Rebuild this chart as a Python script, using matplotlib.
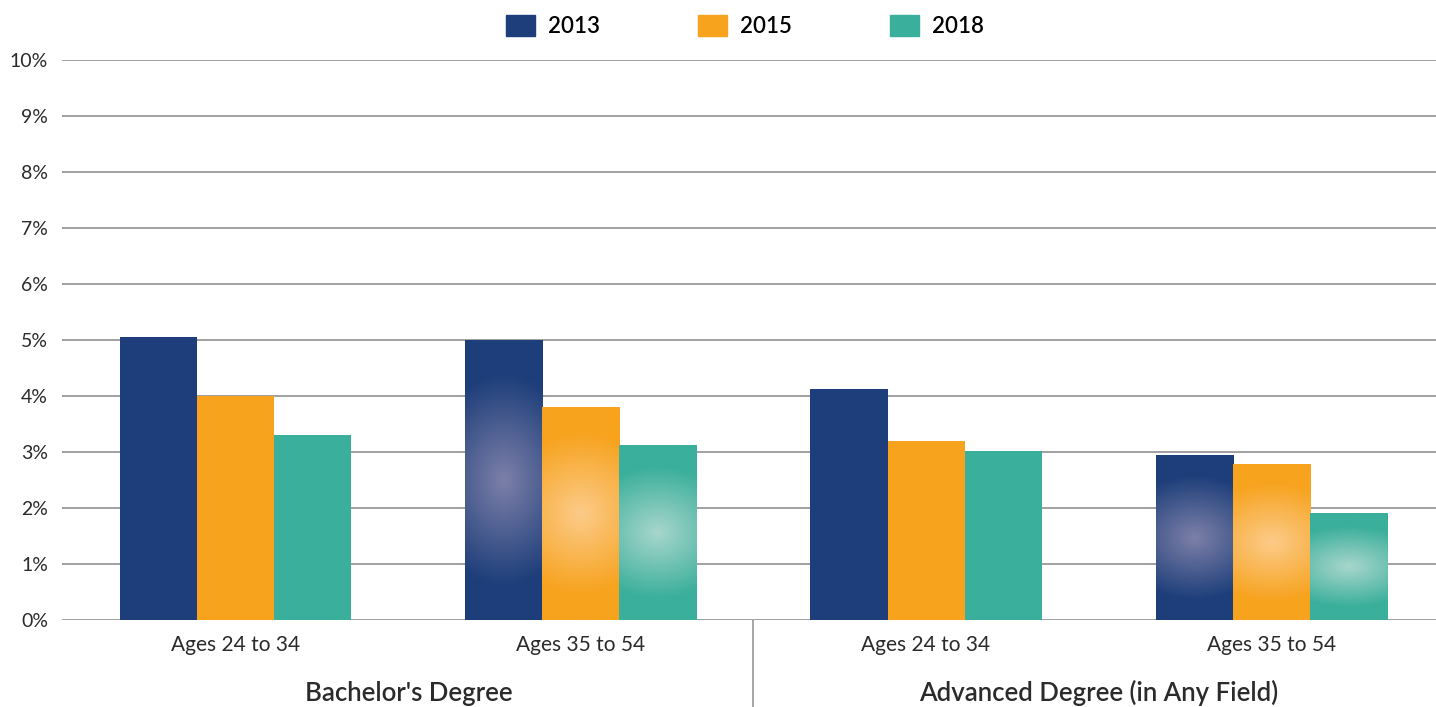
"""
Grouped bar chart: share by degree type and age band, 2013 / 2015 / 2018.
"""
import numpy as np
import matplotlib
matplotlib.use("Agg")
import matplotlib.pyplot as plt
from matplotlib.patches import Patch
from matplotlib.transforms import blended_transform_factory

# ---- data ----
years = ["2013", "2015", "2018"]
age_labels = ["Ages 24 to 34", "Ages 35 to 54", "Ages 24 to 34", "Ages 35 to 54"]
degree_labels = ["Bachelor's Degree", "Advanced Degree (in Any Field)"]
vals_2013 = [5.05, 5.00, 4.13, 2.93]
vals_2015 = [4.00, 3.80, 3.20, 2.77]
vals_2018 = [3.30, 3.11, 3.02, 1.90]
glow_groups = [False, True, False, True]   # groups drawn with the radial highlight

COLORS = ["#1d3e7a", "#f7a31e", "#3aaf9b"]
GLOW = ["#7d80a8", "#fccb8a", "#a8d6cc"]
TXT = "#2b2b2b"

plt.rcParams.update({"font.family": ["Lato", "DejaVu Sans"], "font.size": 14})


def to_rgb(c):
    return np.array(matplotlib.colors.to_rgb(c))


def glow_bar(ax, x0, w, h, base, center):
    """Fill a bar rectangle with a radial gradient toward a lighter centre."""
    n = 200
    xs = np.linspace(-1, 1, n)
    ys = np.linspace(-1, 1, n)
    X, Y = np.meshgrid(xs, ys)
    # ellipse wider than the bar, about a third of its height tall
    r = np.sqrt((X / 2.0) ** 2 + (Y / 0.76) ** 2)
    t = np.clip(1 - r, 0, 1) ** 1.0
    img = to_rgb(base)[None, None, :] * (1 - t[..., None]) + to_rgb(center)[None, None, :] * t[..., None]
    ax.imshow(img, extent=(x0, x0 + w, 0, h), aspect="auto", zorder=3,
              interpolation="bilinear")


def main():
    fig = plt.figure(figsize=(14.36, 7.07), dpi=100)
    ax = fig.add_axes([62 / 1436, 87 / 707, 1 - 62 / 1436, 560 / 707])

    series = [vals_2013, vals_2015, vals_2018]
    x = np.arange(len(age_labels))
    w = 0.2232
    for i, vals in enumerate(series):
        pos = x + (i - 1) * w
        ax.bar(pos, vals, width=w, color=COLORS[i], zorder=2, linewidth=0)
        for j, v in enumerate(vals):
            if glow_groups[j]:
                glow_bar(ax, pos[j] - w / 2, w, v, COLORS[i], GLOW[i])

    ax.set_xlim(-0.504, 3.478)
    ax.set_ylim(0, 10)
    ax.set_yticks(range(0, 11))
    ax.set_yticklabels([f"{k}%" for k in range(0, 11)], color=TXT, fontsize=14)
    ax.tick_params(axis="y", length=0, pad=10)
    ax.set_xticks([])
    ax.grid(axis="y", color="#a0a0a0", lw=1.4, zorder=1)
    for s in ax.spines.values():
        s.set_visible(False)

    # category and group labels below the axis
    tr = blended_transform_factory(ax.transData, fig.transFigure)
    for j, lab in enumerate(age_labels):
        ax.text(x[j], 1 - 645 / 707, lab, transform=tr, ha="center", va="center",
                fontsize=15, color=TXT)
    for k, lab in enumerate(degree_labels):
        ax.text(2 * k + 0.5, 1 - 693 / 707, lab, transform=tr, ha="center", va="center",
                fontsize=18.5, fontweight="semibold", color=TXT)
    ax.plot([1.5, 1.5], [0, 87 / 707], transform=tr, color="#a6a6a6", lw=1.4,
            clip_on=False)

    handles = [Patch(color=c, label=y) for c, y in zip(COLORS, years)]
    fig.legend(handles=handles, loc="center", bbox_to_anchor=(0.519, 0.963), ncol=3,
               frameon=False, handlelength=1.3, handleheight=1.1,
               handletextpad=0.6, columnspacing=4.4,
               prop={"weight": "semibold", "size": 16})

    fig.savefig("out.png", dpi=100)


if __name__ == "__main__":
    main()
